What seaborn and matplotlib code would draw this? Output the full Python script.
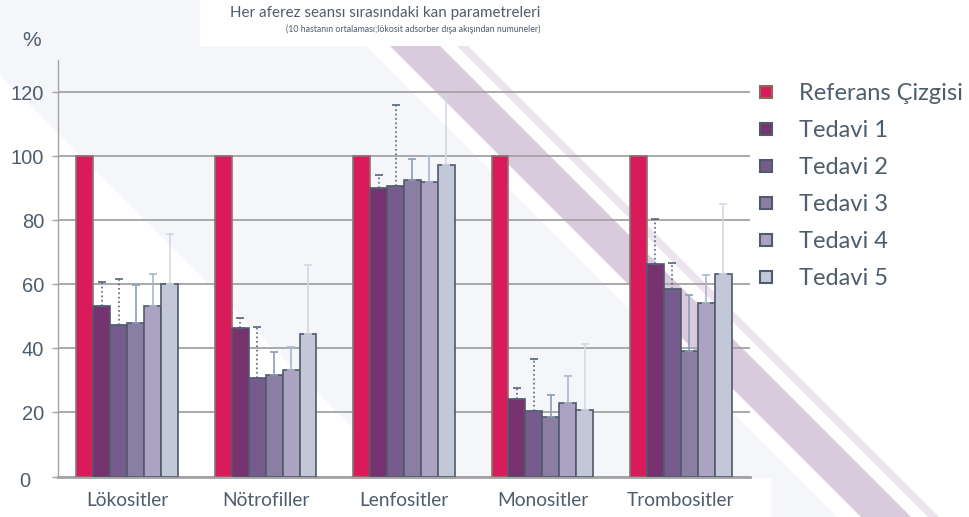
import matplotlib
matplotlib.use('Agg')
from matplotlib import pyplot as plt
from matplotlib.patches import Polygon, Rectangle
from matplotlib.lines import Line2D
import matplotlib.transforms as mtransforms
import seaborn as sns
import numpy as np
import pandas as pd

categories = ['Lökositler', 'Nötrofiller', 'Lenfositler', 'Monositler', 'Trombositler']
series = ['Referans Çizgisi', 'Tedavi 1', 'Tedavi 2', 'Tedavi 3', 'Tedavi 4', 'Tedavi 5']

referans = [100, 100, 100, 100, 100]
tedavi_1 = [53.1, 46.4, 90.2, 24.3, 66.3]
tedavi_2 = [47.4, 30.7, 90.8, 20.6, 58.4]
tedavi_3 = [48.0, 31.8, 92.5, 18.5, 39.2]
tedavi_4 = [53.1, 33.1, 91.9, 23.0, 54.2]
tedavi_5 = [60.0, 44.4, 97.2, 20.9, 63.3]

# upper error (sd) per treatment
sd_1 = [7.6, 3.2, 3.8, 3.4, 14.2]
sd_2 = [14.4, 16.0, 25.3, 16.1, 8.2]
sd_3 = [11.7, 7.0, 6.5, 7.0, 17.4]
sd_4 = [10.2, 7.3, 8.1, 8.3, 8.6]
sd_5 = [15.8, 21.5, 21.8, 20.6, 21.6]

yticks = [0, 20, 40, 60, 80, 100, 120]

colors = ['#DA1B5B', '#76336F', '#765C8C', '#8A7EA3', '#ABA3C1', '#C3C8D8']
err_colors = ['#56647A', '#56647A', '#8C9CB8', '#A9B6CD', '#D2D8E4']
err_styles = [':', ':', '-', '-', '-']
txt_color = '#4E5D6C'
grid_color = '#A3A3A3'

values = [referans, tedavi_1, tedavi_2, tedavi_3, tedavi_4, tedavi_5]
sds = [sd_1, sd_2, sd_3, sd_4, sd_5]

df = pd.DataFrame({
    'kategori': categories * len(series),
    'seri': [s for s in series for _ in categories],
    'deger': [v for vals in values for v in vals],
})

sns.set_style('white')
plt.rcParams['font.family'] = ['Lato', 'DejaVu Sans']

W, H = 970, 517
fig = plt.figure(figsize=(W / 100, H / 100), dpi=100)

# background decoration (pixel coords of the figure)
def px(points):
    return [(x / W, 1 - y / H) for x, y in points]

bg = fig.add_axes([0, 0, 1, 1], zorder=-10)
bg.set_xlim(0, 1)
bg.set_ylim(0, 1)
bg.axis('off')
bg.add_patch(Polygon(px([(0, 0), (366, 0), (366, 46), (837, 517), (442, 517), (0, 75)]),
                     closed=True, color='#F5F6F9', lw=0))
bg.add_patch(Polygon(px([(390, 46), (440, 46), (911, 517), (861, 517)]),
                     closed=True, color='#D9CADD', lw=0))
bg.add_patch(Polygon(px([(457, 46), (468, 46), (939, 517), (928, 517)]),
                     closed=True, color='#ECE3EE', lw=0))
bg.add_patch(Rectangle((200 / W, 1 - 46 / H), 400 / W, 46 / H, color='white', lw=0))
bg.add_patch(Rectangle((60 / W, 0), 711 / W, 1 - 478 / H, color='white', lw=0))

ax = fig.add_axes([58 / W, 1 - 476.5 / H, 692 / W, 416.5 / H])
ax.patch.set_alpha(0)

sns.barplot(data=df, x='kategori', y='deger', hue='seri', order=categories, hue_order=series,
            palette=colors, saturation=1, width=0.735, edgecolor='#4F5A6B', linewidth=1.2,
            errorbar=None, legend=False, ax=ax, zorder=3)

for bar in ax.containers[0]:
    bar.set_edgecolor('#8C7370')

for i, cont in enumerate(ax.containers[1:]):
    xs = [b.get_x() + b.get_width() / 2 for b in cont]
    ys = [b.get_height() for b in cont]
    eb = ax.errorbar(xs, ys, yerr=[np.zeros(len(xs)), sds[i]], fmt='none',
                     ecolor=err_colors[i], elinewidth=1.2, capsize=3, capthick=1.2, zorder=4)
    eb[2][0].set_linestyle(err_styles[i])

ax.set_xlim(-0.5, 4.5)
ax.set_ylim(0, 130)
ax.set_yticks(yticks)
ax.set_yticklabels([str(t) for t in yticks], family=['Liberation Sans', 'DejaVu Sans'],
                   fontsize=14.5, color=txt_color)
ax.tick_params(axis='y', left=True, length=4, width=1, color=grid_color, pad=6)
ax.tick_params(axis='x', bottom=False, labelsize=13.8, labelcolor=txt_color, pad=8)
ax.set_xlabel('')
ax.set_ylabel('')
ax.grid(axis='y', color=grid_color, linewidth=1.3, zorder=0)
ax.set_axisbelow(True)
for s in ['top', 'right']:
    ax.spines[s].set_visible(False)
ax.spines['left'].set_color(grid_color)
ax.spines['left'].set_linewidth(1)
ax.spines['bottom'].set_color(grid_color)
ax.spines['bottom'].set_linewidth(2)

# the zero label sits further left and a bit lower in the original
zero_lbl = ax.get_yticklabels()[0]
zero_lbl.set_transform(zero_lbl.get_transform() +
                       mtransforms.ScaledTranslation(-0.14, -0.03, fig.dpi_scale_trans))

fig.text(22 / W, 1 - 40 / H, '%', fontsize=15, color=txt_color,
         family=['Liberation Sans', 'DejaVu Sans'], va='center', ha='left')
fig.text(385 / W, 1 - 13 / H, 'Her aferez seansı sırasındaki kan parametreleri',
         fontsize=10.9, color=txt_color, ha='center', va='center')
fig.text(413 / W, 1 - 29 / H, '(10 hastanın ortalaması;lökosit adsorber dışa akışından numuneler)',
         fontsize=6.3, color=txt_color, ha='center', va='center')

edge_cols = ['#8C6A60'] + ['#4F5A6B'] * 5
handles = [Line2D([], [], marker='s', linestyle='none', markersize=8, markerfacecolor=c,
                  markeredgecolor=e, markeredgewidth=1.5) for c, e in zip(colors, edge_cols)]
leg = fig.legend(handles, series, loc='upper left', bbox_to_anchor=(757 / W, 1 - 83 / H),
                 frameon=False, fontsize=17, handlelength=0.8, handletextpad=1.0,
                 labelspacing=0.68, borderaxespad=0, borderpad=0)
for t in leg.get_texts():
    t.set_color(txt_color)

fig.savefig('out.png', dpi=100)
